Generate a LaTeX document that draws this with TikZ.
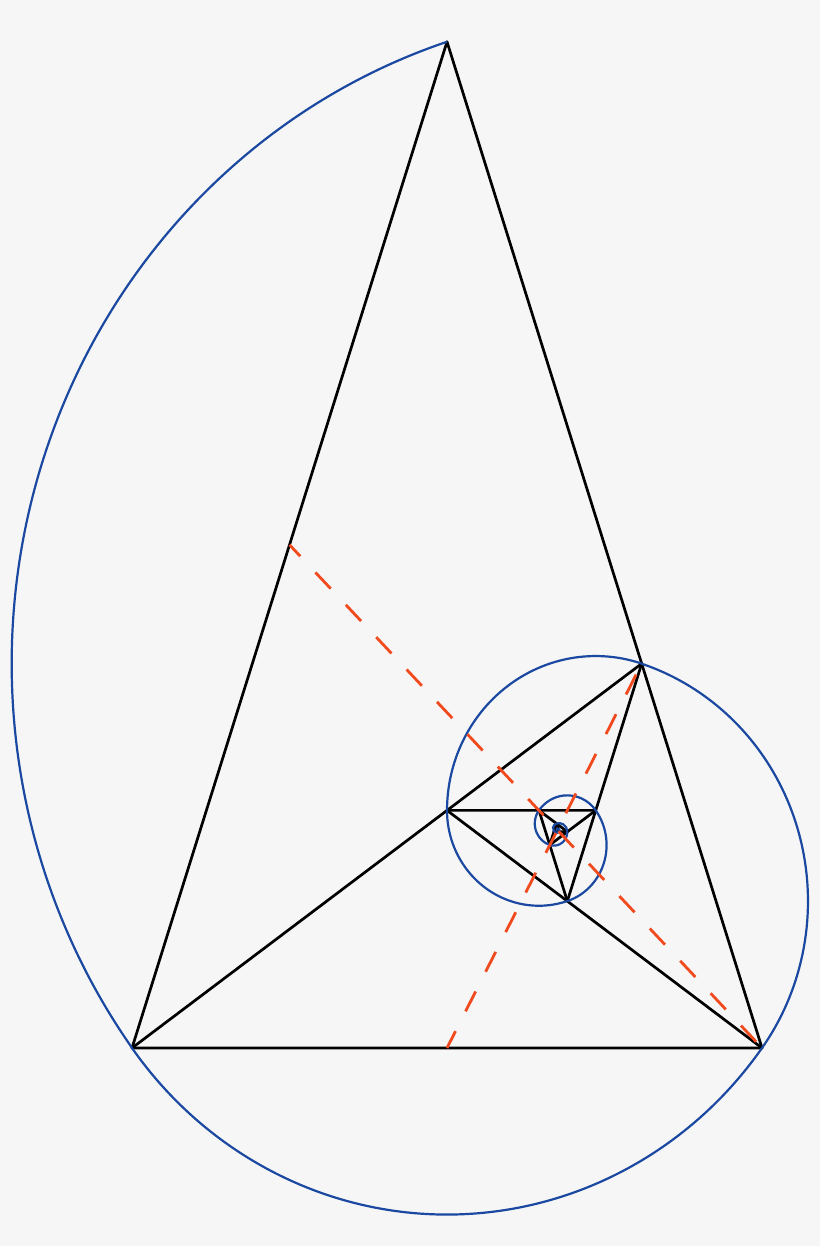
\documentclass[tikz,border=0pt]{standalone}
\usetikzlibrary{calc}
\definecolor{bg}{HTML}{F6F6F6}
\definecolor{spblue}{HTML}{1B48A0}
\definecolor{dashred}{HTML}{F04A1E}
\begin{document}
\begin{tikzpicture}[x=1pt,y=1pt,yscale=1.0377,
  edge/.style={black,line width=2.7pt,line join=round,line cap=round},
  spiral/.style={spblue,line width=2.2pt},
  guide/.style={dashred,line width=2.8pt,dash pattern=on 22.2pt off 22.2pt}]
\fill[bg] (0,-190.8) rectangle (820,1009.9);
\useasboundingbox (0,-190.8) rectangle (820,1009.9);
\coordinate (P0) at (447,969.47);
\coordinate (P1) at (132,0);
\coordinate (P2) at (762,0);
\foreach \n in {3,...,20} {
  \pgfmathtruncatemacro\a{\n-3}
  \pgfmathtruncatemacro\c{\n-1}
  \coordinate (P\n) at ($(P\a)!0.6180340!(P\c)$);
}
\coordinate (M1) at ($(P0)!0.5!(P1)$);
\coordinate (M2) at ($(P1)!0.5!(P2)$);
% black triangles
\draw[edge] (P0) -- (P1) -- (P2);
\foreach \n in {0,...,10} {
  \pgfmathtruncatemacro\m{\n+2}
  \draw[edge] (P\n) -- (P\m);
}
% spiral arcs
\foreach \n in {0,...,14} {
  \pgfmathsetmacro\r{630*(0.6180340^\n)}
  \pgfmathsetmacro\s{mod(108+108*\n,360)}
  \pgfmathsetmacro\e{\s+108}
  \draw[spiral] (P\n) arc[start angle=\s, end angle=\e, radius=\r];
}
% dashed guides
\draw[guide,dash phase=6.5pt] (M1) -- (P2);
\draw[guide,dash phase=32pt] (P3) -- (M2);
\end{tikzpicture}
\end{document}
